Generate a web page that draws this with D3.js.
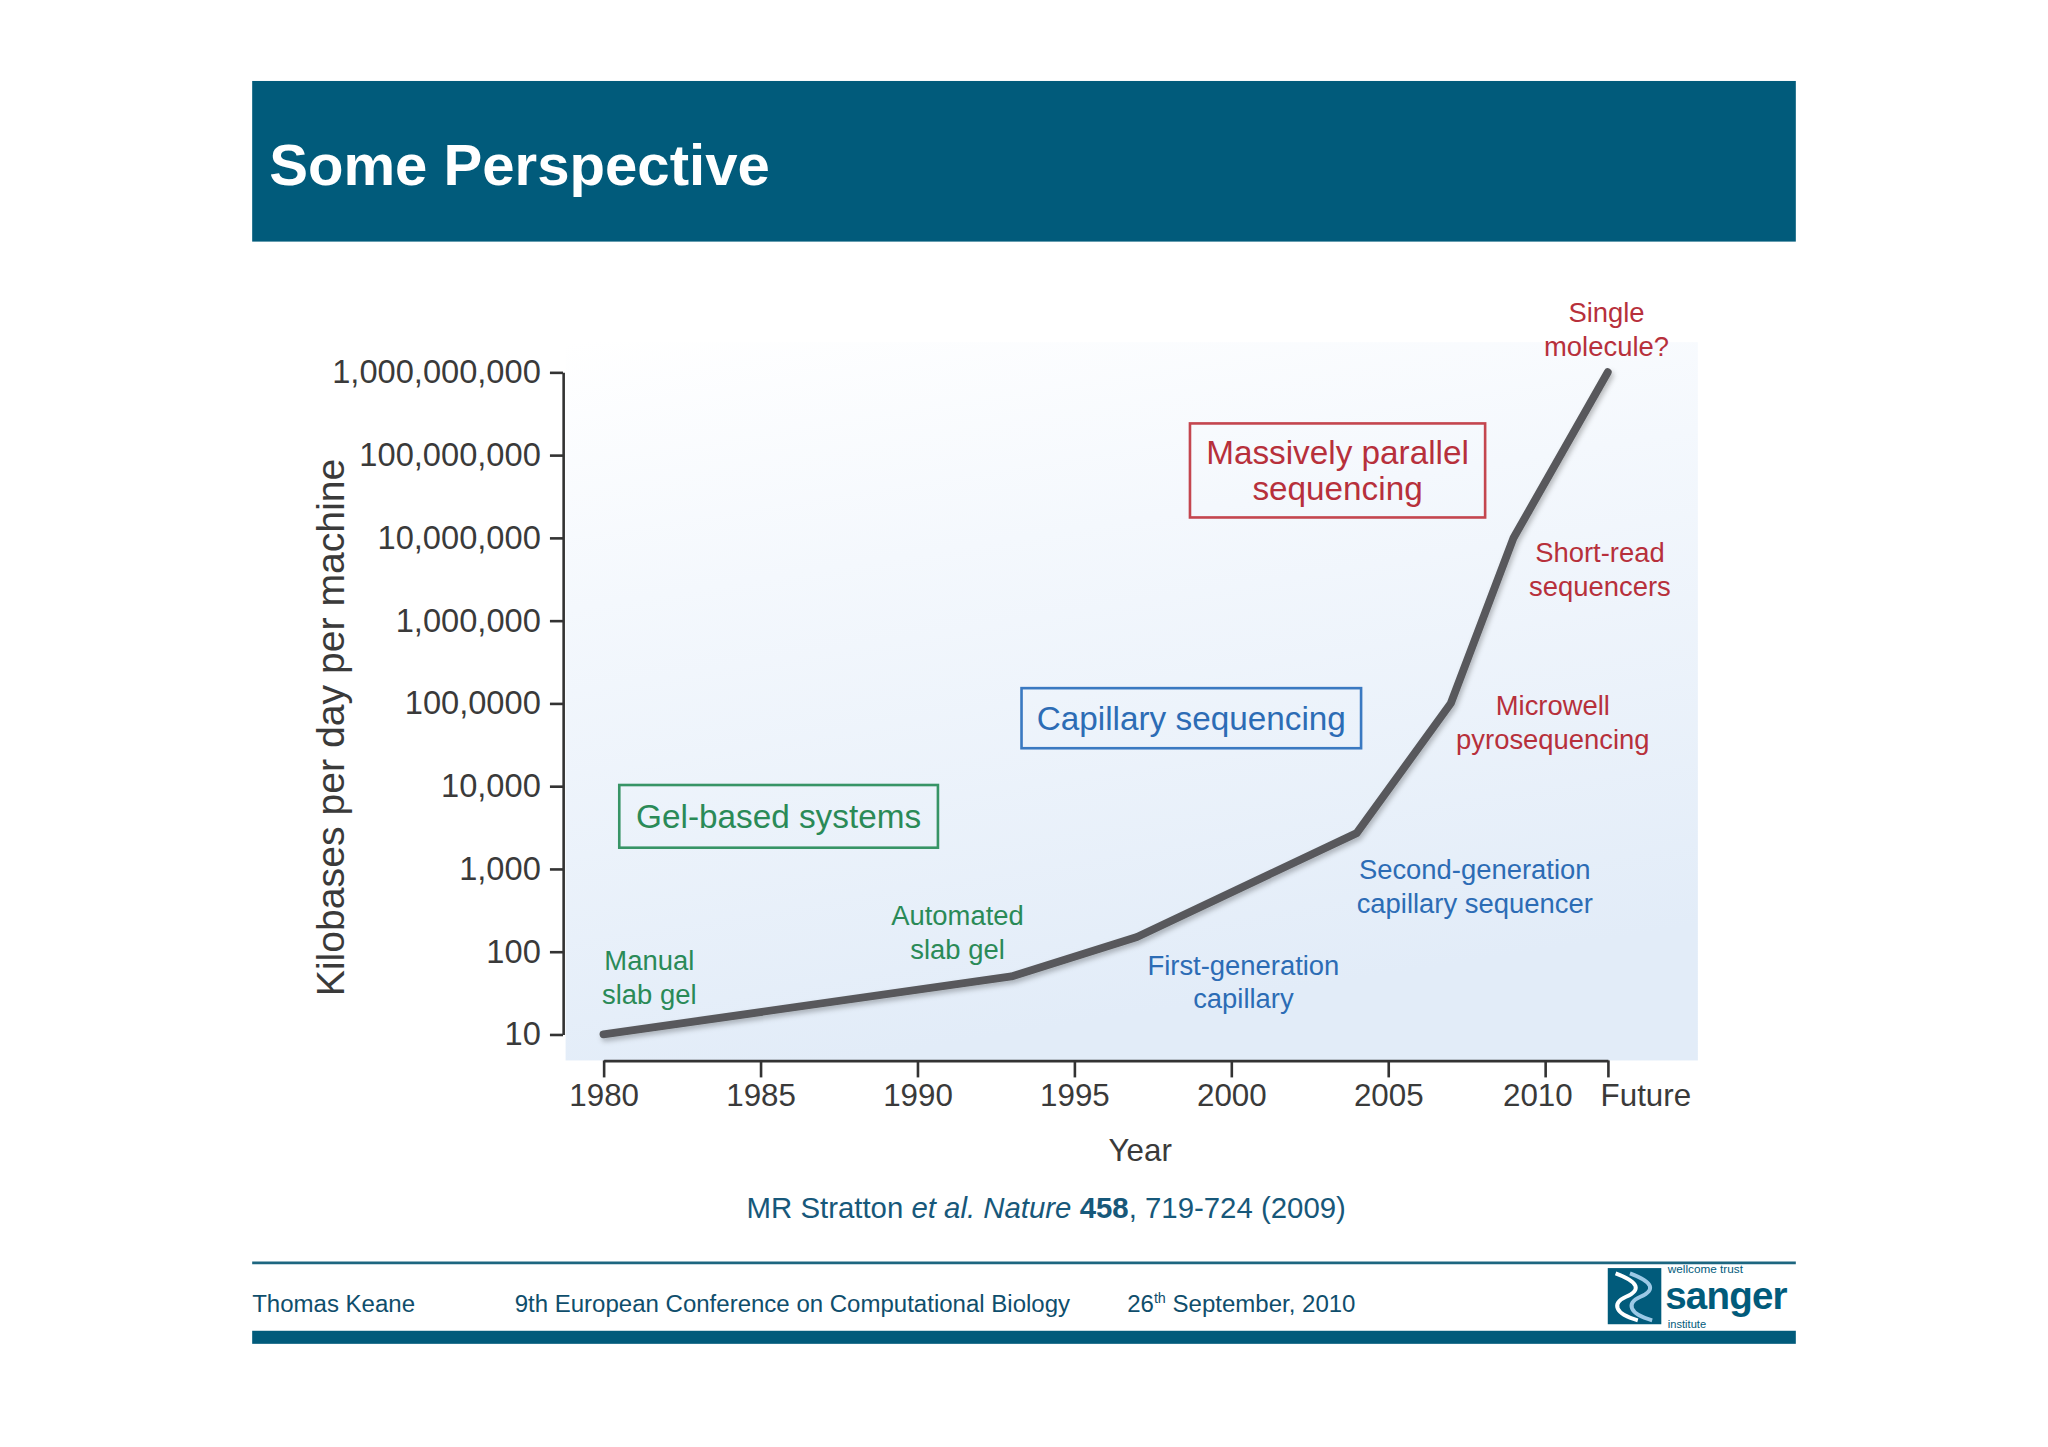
<!DOCTYPE html>
<html>
<head>
<meta charset="utf-8">
<script src="https://cdn.jsdelivr.net/npm/d3@7.9.0/dist/d3.min.js"></script>
<style>
  body { margin: 0; background: #fff; }
  svg { display: block; font-family: "Liberation Sans", Arial, sans-serif; }
</style>
</head>
<body>
<svg id="slide" width="2048" height="1447" viewBox="0 0 1568 1108"></svg>
<script>
// data (Stratton et al. 2009)
const years = [1980, 1993, 1997, 2004, 2007, 2009, 2012];
const kbPerDay = [10, 50, 150, 2700, 100000, 10000000, 1000000000];

const xTicks = [1980, 1985, 1990, 1995, 2000, 2005, 2010, 2012];
const xTickLabels = ['1980', '1985', '1990', '1995', '2000', '2005', '2010', 'Future'];
const yTicks = [10, 100, 1e3, 1e4, 1e5, 1e6, 1e7, 1e8, 1e9];
const yTickLabels = ['10', '100', '1,000', '10,000', '100,0000', '1,000,000',
  '10,000,000', '100,000,000', '1,000,000,000'];

// annotations placed in data space (year, kb/day)
const notes = [
  { lines: ['Single', 'molecule?'], x: 2011.96, y: 3.3e9, c: 'red' },
  { lines: ['Short-read', 'sequencers'], x: 2011.75, y: 4.1e6, c: 'red' },
  { lines: ['Microwell', 'pyrosequencing'], x: 2010.25, y: 5.9e4, c: 'red' },
  { lines: ['Second-generation', 'capillary sequencer'], x: 2007.76, y: 607, c: 'blue' },
  { lines: ['First-generation', 'capillary'], x: 2000.39, y: 43, c: 'blue' },
  { lines: ['Automated', 'slab gel'], x: 1991.28, y: 170, c: 'green' },
  { lines: ['Manual', 'slab gel'], x: 1981.46, y: 49, c: 'green' }
];
const boxes = [
  { lines: ['Massively parallel', 'sequencing'], x: 2003.39, y: 6.5e7, c: 'red', w: 226, h: 72 },
  { lines: ['Capillary sequencing'], x: 1998.73, y: 6.6e4, c: 'blue', w: 260, h: 46 },
  { lines: ['Gel-based systems'], x: 1985.58, y: 4300, c: 'green', w: 244, h: 48 }
];
const colours = {
  red: { text: '#b7303b', box: '#c4464f' },
  blue: { text: '#2c6cb5', box: '#3a79c1' },
  green: { text: '#2a8a57', box: '#379466' }
};

const svg = d3.select('#slide');
const defs = svg.append('defs');

const grad = defs.append('linearGradient').attr('id', 'bg')
  .attr('x1', 0).attr('y1', 0).attr('x2', 0.25).attr('y2', 1);
grad.append('stop').attr('offset', 0).attr('stop-color', '#ffffff');
grad.append('stop').attr('offset', 0.35).attr('stop-color', '#f4f8fd');
grad.append('stop').attr('offset', 1).attr('stop-color', '#e2ecf8');

const shadow = defs.append('filter').attr('id', 'shadow')
  .attr('x', '-10%').attr('y', '-10%').attr('width', '120%').attr('height', '120%');
shadow.append('feDropShadow').attr('dx', 1.5).attr('dy', 2.5)
  .attr('stdDeviation', 2).attr('flood-color', '#000').attr('flood-opacity', 0.25);

// header band
svg.append('rect').attr('x', 193).attr('y', 62).attr('width', 1182).attr('height', 123)
  .attr('fill', '#015b7b');
svg.append('text').attr('x', 206).attr('y', 142)
  .attr('fill', '#fff').attr('font-size', 44.5).attr('font-weight', 'bold')
  .text('Some Perspective');

// chart
const x = d3.scaleLinear().domain([1980, 2012]).range([462, 1231]);
const y = d3.scaleLog().domain([10, 1e9]).range([792, 285]);

svg.append('rect').attr('x', 433).attr('y', 262).attr('width', 867).attr('height', 550)
  .attr('fill', 'url(#bg)');

const yAxis = d3.axisLeft(y).tickValues(yTicks)
  .tickFormat((d, i) => yTickLabels[i]).tickSize(10).tickSizeOuter(0).tickPadding(7);
const gy = svg.append('g').attr('transform', 'translate(431,0)').call(yAxis);
gy.selectAll('text').attr('font-size', 25).attr('fill', '#3a3a3a')
  .attr('font-family', '"Liberation Sans", Arial, sans-serif');

const xAxis = d3.axisBottom(x).tickValues(xTicks)
  .tickFormat((d, i) => xTickLabels[i]).tickSize(13).tickSizeOuter(0).tickPadding(5);
const gx = svg.append('g').attr('transform', 'translate(0,812)').call(xAxis);
gx.selectAll('text').attr('font-size', 24).attr('fill', '#3a3a3a')
  .attr('font-family', '"Liberation Sans", Arial, sans-serif')
  .attr('text-anchor', (d, i) => i === xTicks.length - 1 ? 'start' : 'middle')
  .attr('dx', (d, i) => i === xTicks.length - 1 ? -6 : (i === xTicks.length - 2 ? -6 : 0));

[gx, gy].forEach(g => {
  g.select('.domain').attr('stroke', '#333').attr('stroke-width', 2);
  g.selectAll('.tick line').attr('stroke', '#333').attr('stroke-width', 2);
});

svg.append('text').attr('x', 873).attr('y', 889).attr('text-anchor', 'middle')
  .attr('font-size', 24).attr('fill', '#3a3a3a').text('Year');
svg.append('text').attr('transform', 'translate(263,557) rotate(-90)')
  .attr('text-anchor', 'middle').attr('font-size', 30).attr('fill', '#3a3a3a')
  .text('Kilobases per day per machine');

// throughput line
const line = d3.line().x(d => x(d[0])).y(d => y(d[1]));
svg.append('path').datum(d3.zip(years, kbPerDay))
  .attr('d', line).attr('fill', 'none')
  .attr('stroke', '#58595c').attr('stroke-width', 6)
  .attr('stroke-linejoin', 'round').attr('stroke-linecap', 'round')
  .attr('filter', 'url(#shadow)');

// boxed labels
boxes.forEach(b => {
  const cx = x(b.x), cy = y(b.y);
  svg.append('rect').attr('x', cx - b.w / 2).attr('y', cy - b.h / 2)
    .attr('width', b.w).attr('height', b.h).attr('fill', 'none')
    .attr('stroke', colours[b.c].box).attr('stroke-width', 2);
  const t = svg.append('text').attr('text-anchor', 'middle')
    .attr('font-size', 25.5).attr('fill', colours[b.c].text);
  const n = b.lines.length;
  b.lines.forEach((s, i) => {
    t.append('tspan').attr('x', cx).attr('y', cy + (i - (n - 1) / 2) * 28)
      .attr('dy', '0.35em').text(s);
  });
});

// plain labels
notes.forEach(a => {
  const cx = x(a.x), cy = y(a.y);
  const t = svg.append('text').attr('text-anchor', 'middle')
    .attr('font-size', 21).attr('fill', colours[a.c].text);
  a.lines.forEach((s, i) => {
    t.append('tspan').attr('x', cx).attr('y', cy + (i - 0.5) * 26)
      .attr('dy', '0.35em').text(s);
  });
});

// citation
const cite = svg.append('text').attr('x', 801).attr('y', 933).attr('text-anchor', 'middle')
  .attr('font-size', 22.5).attr('fill', '#17587a');
cite.append('tspan').text('MR Stratton ');
cite.append('tspan').attr('font-style', 'italic').text('et al. Nature ');
cite.append('tspan').attr('font-weight', 'bold').text('458');
cite.append('tspan').text(', 719-724 (2009)');

// footer
svg.append('line').attr('x1', 193).attr('x2', 1375).attr('y1', 967).attr('y2', 967)
  .attr('stroke', '#1d6680').attr('stroke-width', 2);
svg.append('rect').attr('x', 193).attr('y', 1019).attr('width', 1182).attr('height', 10)
  .attr('fill', '#015b7b');

const foot = svg.append('g').attr('font-size', 18.4).attr('fill', '#0f4e6c');
foot.append('text').attr('x', 193).attr('y', 1005).text('Thomas Keane');
foot.append('text').attr('x', 394).attr('y', 1005)
  .text('9th European Conference on Computational Biology');
const date = foot.append('text').attr('x', 863).attr('y', 1005);
date.append('tspan').text('26');
date.append('tspan').attr('font-size', 11).attr('dy', -7).text('th');
date.append('tspan').attr('dy', 7).text(' September, 2010');

// sanger logo
const logo = svg.append('g');
logo.append('rect').attr('x', 1231).attr('y', 971).attr('width', 41).attr('height', 43)
  .attr('fill', '#015b7b');
logo.append('path')
  .attr('d', 'M1237,975 C1256,982 1256,988 1245,993 C1234,998 1236,1006 1254,1011')
  .attr('fill', 'none').attr('stroke', '#fff').attr('stroke-width', 3);
logo.append('path')
  .attr('d', 'M1248,975 C1267,982 1267,988 1256,993 C1245,998 1247,1006 1265,1011')
  .attr('fill', 'none').attr('stroke', '#9cc9e6').attr('stroke-width', 3);
logo.append('text').attr('x', 1277).attr('y', 974.5).attr('font-size', 9)
  .attr('fill', '#015b7b').text('wellcome trust');
logo.append('text').attr('x', 1275).attr('y', 1002).attr('font-size', 29.5)
  .attr('font-weight', 'bold').attr('letter-spacing', -0.6).attr('fill', '#015b7b').text('sanger');
logo.append('text').attr('x', 1277).attr('y', 1017).attr('font-size', 8.5)
  .attr('fill', '#015b7b').text('institute');
</script>
</body>
</html>
